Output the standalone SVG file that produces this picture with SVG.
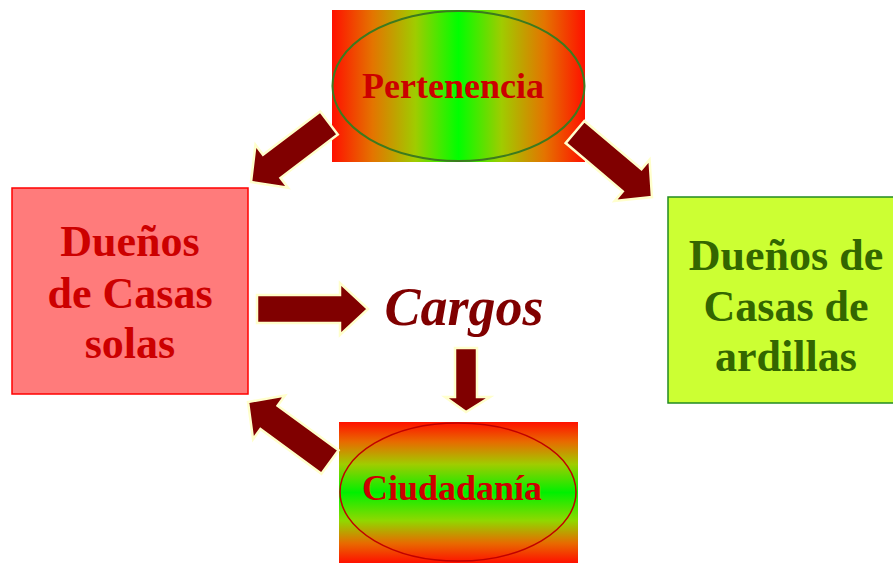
<svg xmlns="http://www.w3.org/2000/svg" width="893" height="563" viewBox="0 0 893 563">
<defs>
<linearGradient id="gH" x1="0" y1="0" x2="1" y2="0">
<stop offset="0" stop-color="#ff1000"/>
<stop offset="0.16" stop-color="#e47400"/>
<stop offset="0.33" stop-color="#9fcc00"/>
<stop offset="0.5" stop-color="#00ff00"/>
<stop offset="0.67" stop-color="#9fcc00"/>
<stop offset="0.84" stop-color="#e47400"/>
<stop offset="1" stop-color="#ff1000"/>
</linearGradient>
<linearGradient id="gV" x1="0" y1="0" x2="0" y2="1">
<stop offset="0" stop-color="#ff1000"/>
<stop offset="0.14" stop-color="#e86a00"/>
<stop offset="0.3" stop-color="#a0cc00"/>
<stop offset="0.5" stop-color="#00f000"/>
<stop offset="0.7" stop-color="#90d800"/>
<stop offset="0.86" stop-color="#e86a00"/>
<stop offset="1" stop-color="#ff1000"/>
</linearGradient>
</defs>
<style>
.t{font-family:"Liberation Serif","Times New Roman",serif;font-weight:bold;text-anchor:middle}
.arr{fill:#800000;stroke:#ffffcc;stroke-width:2.5;stroke-linejoin:miter}
</style>
<rect width="893" height="563" fill="#ffffff"/>
<g id="pertenencia">
<rect x="332" y="10" width="253" height="152" fill="url(#gH)"/>
<ellipse cx="458.5" cy="86" rx="126" ry="75" fill="none" stroke="#3c7a1e" stroke-width="2"/>
<text class="t" x="453" y="98" font-size="36" fill="#cc0000">Pertenencia</text>
</g>
<g id="ciudadania">
<rect x="339" y="422" width="239" height="141" fill="url(#gV)"/>
<ellipse cx="458" cy="492" rx="118" ry="69" fill="none" stroke="#c00000" stroke-width="1.5"/>
<text class="t" x="452" y="500" font-size="36" fill="#cc0000">Ciudadanía</text>
</g>
<g id="duenos-solas">
<rect x="12" y="188" width="236" height="206" fill="#ff7b7b" stroke="#ff0000" stroke-width="1.5"/>
<text class="t" font-size="44" fill="#cc0000"><tspan x="130" y="256">Dueños</tspan><tspan x="130" y="308">de Casas</tspan><tspan x="130" y="358">solas</tspan></text>
</g>
<g id="duenos-ardillas">
<rect x="668" y="197" width="226" height="206" fill="#ccff33" stroke="#228b22" stroke-width="1.5"/>
<text class="t" font-size="44" fill="#336600"><tspan x="786" y="270">Dueños de</tspan><tspan x="786" y="321">Casas de</tspan><tspan x="786" y="371">ardillas</tspan></text>
</g>
<g id="cargos">
<text class="t" x="464" y="325" font-size="54" font-style="italic" fill="#800000">Cargos</text>
</g>
<g id="connectors">
<path class="arr" transform="translate(329,123) rotate(142.9)" d="M0,-14.5 H71.8 V-27 L97.8,0 L71.8,27 V14.5 H0 Z"/>
<path class="arr" transform="translate(575,132) rotate(40.2)" d="M0,-14.5 H74.8 V-27 L100.8,0 L74.8,27 V14.5 H0 Z"/>
<path class="arr" d="M257,295 H340 V283 L368,309 L340,335 V323 H257 Z"/>
<path class="arr" d="M455,348 H477 V397 H490 L466,412 L445,397 H455 Z"/>
<path class="arr" transform="translate(330,462) rotate(216.2)" d="M0,-14.5 H75.6 V-27 L101.6,0 L75.6,27 V14.5 H0 Z"/>
</g>
</svg>
